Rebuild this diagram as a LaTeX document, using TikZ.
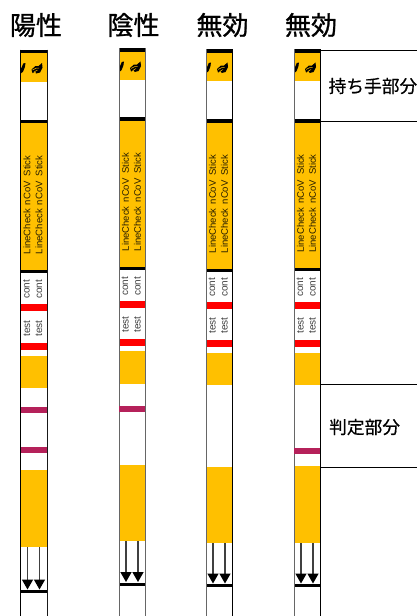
\documentclass[tikz,border=0pt]{standalone}
\usepackage{fontspec}
\setmainfont{Liberation Sans}
\newfontfamily\cjkfont[RawFeature={embolden=0.5}]{Noto Sans CJK JP}
\newfontfamily\cjkhead[RawFeature={embolden=1.0}]{Noto Sans CJK JP}
\usetikzlibrary{arrows.meta}
\definecolor{stripor}{HTML}{FFC000}
\definecolor{stripred}{HTML}{FF0000}
\definecolor{stripmg}{HTML}{B5215A}
\tikzset{
  x=1pt,y=-1pt,
  orangeband/.style={fill=stripor,draw=none},
  redband/.style={fill=stripred,draw=none},
  mgband/.style={fill=stripmg,draw=none},
  blackbar/.style={fill=black,draw=none},
  flow/.style={line width=1.4pt,black!75,-{Triangle[length=10pt,width=11pt,color=black]}},
  title/.style={font=\cjkhead\fontsize{26}{26}\selectfont,inner sep=0pt,text=black},
  part/.style={font=\cjkfont\fontsize{17.7}{18}\selectfont,inner sep=0pt,anchor=west,text=black},
  stick/.style={font=\fontsize{9.5}{10}\selectfont,inner sep=0pt,rotate=90,text=black!85!stripor},
  small/.style={font=\fontsize{10}{10}\selectfont,inner sep=0pt,rotate=90,text=black!75},
  sep/.style={line width=1pt,black}
}
% x, top, bar2, bar3, red1, red2, orange3 top, orange3 bottom, orange4 top, orange4 bottom, bar4
\newcommand{\teststrip}[1]{%
  \foreach \x/\t/\b/\c/\ra/\rb/\oa/\ob/\oc/\od/\e/\lx/\rx in {#1}{
    \begin{scope}
      \clip (\x,\t) rectangle (\x+26.5,616);
      \fill[stripor] (\x,\t+3) rectangle (\x+26.5,\t+32);
      % logo: two rotated marks
      \fill[black] (\x+2.8,\t+14) -- (\x+5,\t+13.5) -- (\x+4.4,\t+17.5) -- (\x+2.6,\t+22) -- (\x+0.4,\t+24) -- (\x+0.2,\t+20) -- cycle;
      \fill[black] (\x+11,\t+20) -- (\x+15,\t+16.5) -- (\x+18,\t+16.5) -- (\x+21.5,\t+13.5) -- (\x+22,\t+18) -- (\x+19.5,\t+23) -- (\x+15.5,\t+24) -- (\x+15,\t+22) -- (\x+12,\t+23.5) -- cycle;
      \draw[stripor,line width=0.5pt] (\x+12,\t+20.5) -- (\x+16,\t+18.5) -- (\x+18.5,\t+18.5);
      \draw[stripor,line width=0.5pt] (\x+13.5,\t+22.5) -- (\x+17,\t+20.5);
      \fill[blackbar] (\x,\t) rectangle (\x+26.5,\t+3.8);
      \fill[orangeband] (\x,\c) rectangle (\x+26.5,\b+3.5);
      \fill[orangeband] (\x,\oa) rectangle (\x+26.5,\ob);
      \fill[orangeband] (\x,\oc) rectangle (\x+26.5,\od);
      \fill[blackbar] (\x,\b) rectangle (\x+26.5,\b+3.5);
      \fill[blackbar] (\x,\c) rectangle (\x+26.5,\c+3);
      \fill[redband] (\x,\ra) rectangle (\x+26.5,\ra+7);
      \fill[redband] (\x,\rb) rectangle (\x+26.5,\rb+7);
      \fill[blackbar] (\x,\e) rectangle (\x+26.5,\e+3);
    \end{scope}
    \node[stick] at (\x+6.5,{(\c+\b)/2+10}) {LineCheck\hspace{1.5pt} nCoV\hspace{2.5pt} Stick};
    \node[stick] at (\x+18.5,{(\c+\b)/2+10}) {LineCheck\hspace{1.5pt} nCoV\hspace{2.5pt} Stick};
    \node[small] at (\x+6,\ra-14.5) {cont};
    \node[small] at (\x+18.5,\ra-14.5) {cont};
    \node[small] at (\x+6.5,\rb-14.5) {test};
    \node[small] at (\x+18.5,\rb-14.5) {test};
    \draw[flow] (\x+7,\od) -- (\x+7,\e-0.5);
    \draw[flow] (\x+19,\od) -- (\x+19,\e-0.5);
    \draw[line width=1pt,draw=black!\lx] (\x,\t) -- (\x,616);
    \draw[line width=1pt,draw=black!\rx] (\x+26.5,\t) -- (\x+26.5,616);
  }%
}
\begin{document}
\begin{tikzpicture}
\useasboundingbox (0,0) rectangle (417,616);
\fill[white] (0,0) rectangle (417,616);
\teststrip{20.5/49.5/119.5/270/304/343/356/388/470/547/590/100/90,
           119/48/117/267/301/339/351/384/465/541/582.5/60/60,
           206/49/119/269/302/340/353/385/467/543/584/60/100,
           294/49/119/268/302/340/353/385/466/543/584/60/100}
\fill[mgband] (20.9,407) rectangle (46.6,413);
\fill[mgband] (20.9,447) rectangle (46.6,453);
\fill[mgband] (119.4,406) rectangle (145,412);
\fill[mgband] (294.4,448) rectangle (319.5,454);
\coordinate (h1) at (320.5,50.5);
\coordinate (h2) at (320.5,121);
\coordinate (h3) at (320.5,384);
\coordinate (h4) at (320.5,467);
\coordinate (e1) at (417,50.5);
\coordinate (e2) at (417,121);
\coordinate (e3) at (417,384);
\coordinate (e4) at (417,467);
\draw[sep] (h1) -- (e1);
\draw[sep] (h2) -- (e2);
\draw[sep] (h3) -- (e3);
\draw[sep] (h4) -- (e4);
\node[title] (t1) at (36,25) {陽性};
\node[title] (t2) at (133.5,25) {陰性};
\node[title] (t3) at (222.5,25) {無効};
\node[title] (t4) at (311,25) {無効};
\node[part] (p1) at (328.5,86) {持ち手部分};
\node[part] (p2) at (329,427) {判定部分};
\end{tikzpicture}
\end{document}
